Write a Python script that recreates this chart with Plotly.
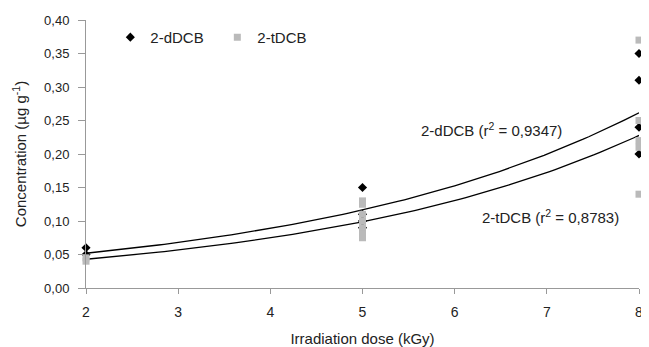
import numpy as np
import plotly.graph_objects as go

# Data
dose_d = [2, 2, 5, 5, 5, 5, 8, 8, 8, 8]
conc_d = [0.06, 0.05, 0.15, 0.11, 0.10, 0.09, 0.35, 0.31, 0.24, 0.20]
dose_t = [2, 2, 5, 5, 5, 5, 5, 5, 5, 8, 8, 8, 8, 8]
conc_t = [0.045, 0.04, 0.13, 0.125, 0.11, 0.10, 0.09, 0.08, 0.075, 0.37, 0.25, 0.22, 0.21, 0.14]
x_ticks = [2, 3, 4, 5, 6, 7, 8]
y_ticks = [0, 0.05, 0.10, 0.15, 0.20, 0.25, 0.30, 0.35, 0.40]
r2_d = "0,9347"
r2_t = "0,8783"

def expfit(x, y):
    b, ln_a = np.polyfit(np.array(x, float), np.log(np.array(y, float)), 1)
    return np.exp(ln_a), b

xs = np.linspace(min(x_ticks), max(x_ticks), 100)
a_d, b_d = expfit(dose_d, conc_d)
a_t, b_t = expfit(dose_t, conc_t)

fig = go.Figure()
fig.add_trace(go.Scatter(x=xs, y=a_d * np.exp(b_d * xs), mode="lines",
                         line=dict(color="black", width=1.3), showlegend=False, hoverinfo="skip"))
fig.add_trace(go.Scatter(x=xs, y=a_t * np.exp(b_t * xs), mode="lines",
                         line=dict(color="black", width=1.3), showlegend=False, hoverinfo="skip"))
fig.add_trace(go.Scatter(x=dose_d, y=conc_d, mode="markers", name="2-dDCB", cliponaxis=False,
                         marker=dict(symbol="diamond", size=7, color="black")))
fig.add_trace(go.Scatter(x=dose_t, y=conc_t, mode="markers", name="2-tDCB", cliponaxis=False,
                         marker=dict(symbol="square", size=7, color="#bababa",
                                     line=dict(width=0))))

fig.add_annotation(x=6.395, y=0.236, text="2-dDCB (r<sup>2</sup> = " + r2_d + ")",
                   showarrow=False, font=dict(size=15, color="#222"))
fig.add_annotation(x=7.04, y=0.107, text="2-tDCB (r<sup>2</sup> = " + r2_t + ")",
                   showarrow=False, font=dict(size=15, color="#222"))

# the page body adds an 8px offset, so the figure is 8px smaller than the window
fig.update_layout(
    width=641, height=339,
    margin=dict(l=78, r=10, t=12, b=59),
    paper_bgcolor="white", plot_bgcolor="white",
    separators=", ",
    font=dict(family="Liberation Sans, Arial, sans-serif", size=13, color="#222"),
    legend=dict(orientation="h", x=0.044, y=0.935, xanchor="left", yanchor="middle",
                traceorder="normal", bgcolor="rgba(0,0,0,0)", font=dict(size=15),
                itemwidth=30, entrywidth=62, entrywidthmode="pixels"),
    xaxis=dict(range=[2, 8], tickvals=x_ticks, showgrid=False, zeroline=False,
               showline=True, linecolor="#999", linewidth=1, automargin=False,
               ticks="outside", ticklen=5, tickcolor="#999", tickfont=dict(size=14),
               ticklabelstandoff=6,
               title=dict(text="Irradiation dose (kGy)", standoff=15, font=dict(size=15))),
    yaxis=dict(range=[0, 0.40], tickvals=y_ticks, tickformat=".2f", showgrid=False,
               zeroline=False, showline=True, linecolor="#999", linewidth=1, automargin=False,
               ticks="outside", ticklen=7, tickcolor="#999", ticklabelstandoff=6,
               tickfont=dict(size=13),
               title=dict(text="Concentration (µg g<sup>-1</sup>)", standoff=13, font=dict(size=15))),
)
fig.write_html("out.html")
